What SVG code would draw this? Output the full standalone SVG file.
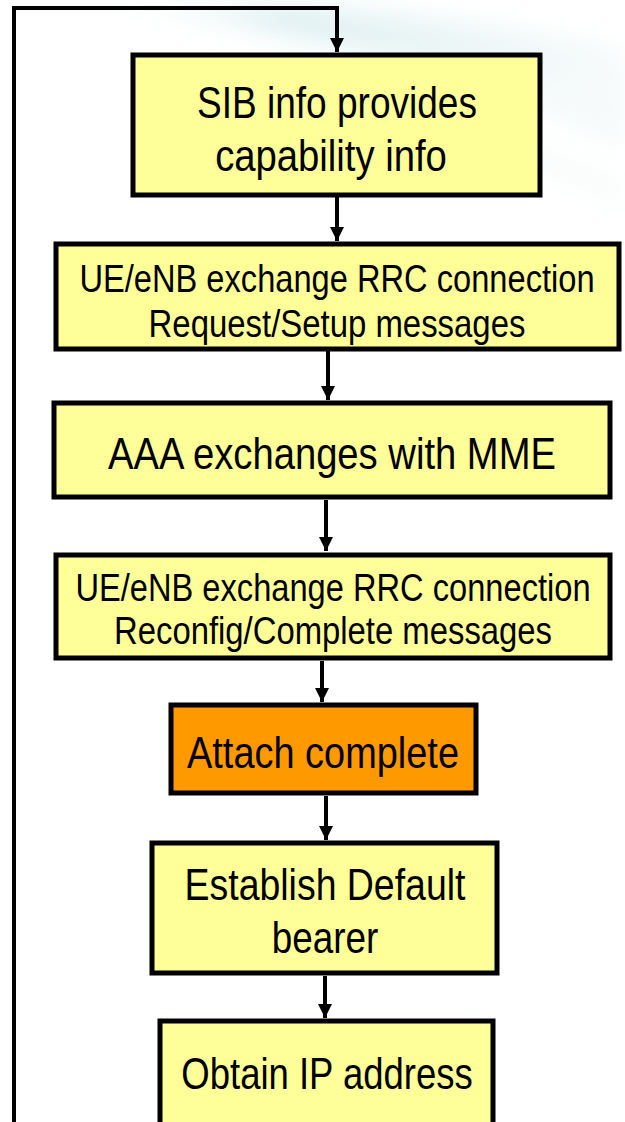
<svg xmlns="http://www.w3.org/2000/svg" width="625" height="1122" viewBox="0 0 625 1122">
<defs>
<style>
.box{fill:#FFFF99;stroke:#000;stroke-width:5}
.hl{fill:#FF9900;stroke:#000;stroke-width:5}
.t{font-family:"Liberation Sans",Arial,sans-serif;fill:#000;text-anchor:middle;dominant-baseline:central}
.big{font-size:45px}
.mid{font-size:39px}
.conn{fill:none;stroke:#000;stroke-width:4}
</style>
<marker id="ah" viewBox="0 0 10 10" refX="10" refY="5" markerWidth="3.5" markerHeight="3.5" orient="auto" markerUnits="strokeWidth">
<path d="M0,0 L10,5 L0,10 z" fill="#000"/>
</marker>
<linearGradient id="sw" x1="0" y1="0" x2="1" y2="0.4">
<stop offset="0" stop-color="#ffffff" stop-opacity="0"/>
<stop offset="0.4" stop-color="#d4ebec" stop-opacity="0.8"/>
<stop offset="1" stop-color="#e8f3f4" stop-opacity="0.4"/>
</linearGradient>
<filter id="blur" x="-20%" y="-50%" width="140%" height="200%"><feGaussianBlur stdDeviation="12"/></filter>
</defs>
<rect width="625" height="1122" fill="#fff"/>
<g id="background" filter="url(#blur)">
<path d="M40,0 C220,15 420,50 625,150 L625,50 C450,15 300,0 40,0 z" fill="url(#sw)"/>
<path d="M200,60 C330,100 480,140 625,210 L625,180 C480,120 330,80 200,60 z" fill="url(#sw)" opacity="0.6"/>
</g>
<g id="connectors">
<path class="conn" d="M14,1122 L14,8 L337,8 L337,52" marker-end="url(#ah)"/>
<path class="conn" d="M337,196 L337,241" marker-end="url(#ah)"/>
<path class="conn" d="M328,351 L328,400" marker-end="url(#ah)"/>
<path class="conn" d="M326,500 L326,551" marker-end="url(#ah)"/>
<path class="conn" d="M322,661 L322,702" marker-end="url(#ah)"/>
<path class="conn" d="M326,796 L326,840" marker-end="url(#ah)"/>
<path class="conn" d="M325,976 L325,1018" marker-end="url(#ah)"/>
</g>
<g id="n1">
<rect class="box" x="133" y="55" width="407" height="140"/>
<text class="t big" transform="translate(337,103) scale(0.823,1)">SIB info provides</text>
<text class="t big" transform="translate(331,155) scale(0.85,1)">capability info</text>
</g>
<g id="n2">
<rect class="box" x="56" y="244" width="563" height="105"/>
<text class="t mid" transform="translate(337,278) scale(0.837,1)">UE/eNB exchange RRC connection</text>
<text class="t mid" transform="translate(337,323) scale(0.844,1)">Request/Setup messages</text>
</g>
<g id="n3">
<rect class="box" x="54" y="403" width="556" height="94"/>
<text class="t big" transform="translate(332,453) scale(0.849,1)">AAA exchanges with MME</text>
</g>
<g id="n4">
<rect class="box" x="56" y="555" width="554" height="103"/>
<text class="t mid" transform="translate(333,587) scale(0.837,1)">UE/eNB exchange RRC connection</text>
<text class="t mid" transform="translate(333,630) scale(0.842,1)">Reconfig/Complete messages</text>
</g>
<g id="n5">
<rect class="hl" x="171" y="705" width="305" height="88"/>
<text class="t big" transform="translate(323,752) scale(0.843,1)">Attach complete</text>
</g>
<g id="n6">
<rect class="box" x="152" y="843" width="345" height="130"/>
<text class="t big" transform="translate(325,885) scale(0.832,1)">Establish Default</text>
<text class="t big" transform="translate(325,938) scale(0.82,1)">bearer</text>
</g>
<g id="n7">
<rect class="box" x="160" y="1021" width="333" height="110"/>
<text class="t big" transform="translate(327,1074) scale(0.811,1)">Obtain IP address</text>
</g>
</svg>
